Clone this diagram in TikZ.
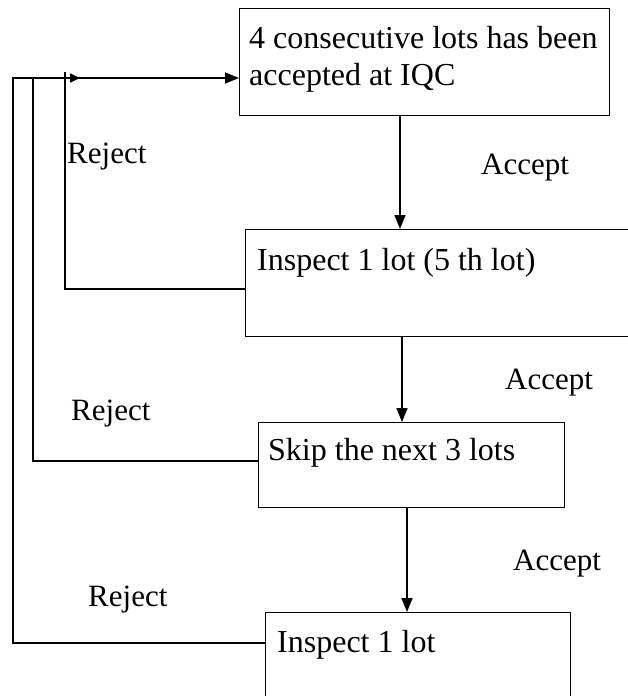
\documentclass[tikz,border=0pt]{standalone}
\usepackage{fontspec}
\setmainfont{Liberation Serif}
\usetikzlibrary{arrows.meta}
\begin{document}
\begin{tikzpicture}[x=1pt,y=-1pt,
  box/.style={draw, line width=1.4pt, inner sep=0pt, anchor=north west},
  txt/.style={anchor=base west, inner sep=0pt, font=\fontsize{32}{38}\selectfont},
  lbl/.style={anchor=base west, inner sep=0pt, font=\fontsize{31}{36}\selectfont},
  flow/.style={line width=1.6pt, -{Triangle[length=14pt,width=11pt]}},
  back/.style={line width=1.6pt}]
\useasboundingbox (0,0) rectangle (627,696);

% process boxes
\node[box, minimum width=370pt, minimum height=107pt] (b1) at (239,8) {};
\node[box, minimum width=385pt, minimum height=107pt] (b2) at (245,229) {};
\node[box, minimum width=306pt, minimum height=85pt]  (b3) at (258,422) {};
\node[box, minimum width=305pt, minimum height=110pt] (b4) at (265,612) {};

% box texts
\node[txt] (t1a) at (249,48) {4 consecutive lots has been};
\node[txt] (t1b) at (249,85) {accepted at IQC};
\node[txt] (t2) at (257,270) {Inspect 1 lot (5 th lot)};
\node[txt] (t3) at (268,460) {Skip the next 3 lots};
\node[txt] (t4) at (277,652) {Inspect 1 lot};

% accept path
\draw[flow] (b1.south -| 400,0) -- (b2.north -| 400,0);
\draw[flow] (b2.south -| 402,0) -- (b3.north -| 402,0);
\draw[flow] (b3.south -| 407,0) -- (b4.north -| 407,0);

\node[lbl] (a1) at (481,174) {Accept};
\node[lbl] (a2) at (505,389) {Accept};
\node[lbl] (a3) at (513,570) {Accept};

% reject paths back to the top
\coordinate (top) at (13,78);
\coordinate (j2) at (65,78);
\coordinate (j2tip) at (80,78);
\draw[flow] (b4.west |- 0,643) -| (top) -- (b1.west |- top);
\draw[back] (b3.west |- 0,461) -| (33,78);
\draw[back] (b2.west |- 0,289) -| (65,72);
\draw[line width=1.6pt, -{Triangle[length=10pt,width=9pt]}] (j2) -- (j2tip);

\node[lbl] (r1) at (67,163) {Reject};
\node[lbl] (r2) at (71,420) {Reject};
\node[lbl] (r3) at (88,606) {Reject};
\end{tikzpicture}
\end{document}
